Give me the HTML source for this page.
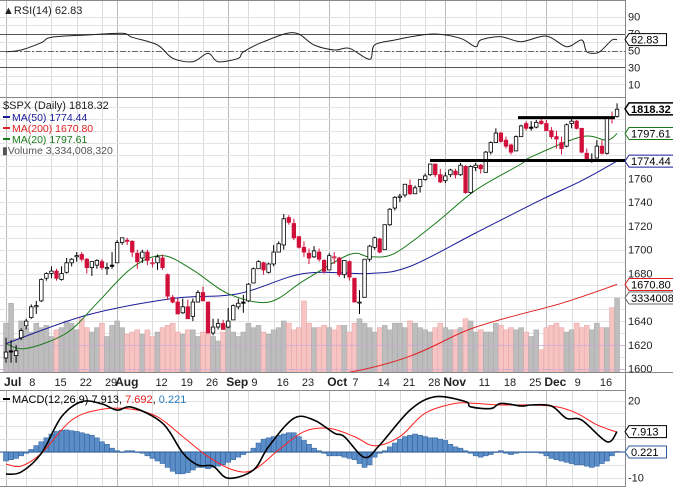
<!DOCTYPE html>
<html><head><meta charset="utf-8"><style>
html,body{margin:0;padding:0;background:#fff;overflow:hidden}
svg{display:block;font-family:"Liberation Sans",sans-serif}
</style></head><body>
<svg id="c" width="673" height="487" viewBox="0 0 673 487" xmlns="http://www.w3.org/2000/svg"></svg>
<script>
const closes=[1614,1614,1615,1632,1640,1652,1653,1675,1680,1682,1676,1680,1689,1692,1695,1692,1685,1690,1691,1685,1685,1686,1706,1710,1707,1698,1690,1698,1691,1689,1694,1685,1661,1656,1646,1652,1642,1656,1664,1657,1630,1635,1638,1633,1640,1653,1655,1655,1671,1684,1690,1683,1688,1698,1705,1726,1723,1710,1702,1698,1693,1699,1692,1682,1695,1694,1679,1691,1677,1656,1656,1692,1703,1710,1698,1721,1734,1744,1745,1755,1747,1752,1759,1762,1772,1763,1757,1762,1767,1763,1771,1748,1770,1771,1768,1782,1790,1798,1791,1787,1782,1795,1804,1802,1802,1807,1806,1800,1795,1793,1785,1805,1808,1802,1782,1775,1776,1787,1781,1811,1810,1818];
const opens=[1609,1615,1611,1626,1636,1643,1652,1657,1676,1680,1682,1675,1681,1689,1694,1696,1692,1685,1687,1690,1684,1687,1689,1706,1708,1707,1697,1693,1698,1689,1689,1693,1679,1660,1656,1647,1652,1644,1656,1664,1656,1630,1635,1638,1635,1641,1652,1656,1657,1672,1684,1689,1681,1688,1698,1704,1727,1722,1711,1702,1697,1694,1698,1691,1683,1694,1693,1679,1690,1676,1656,1660,1692,1702,1709,1700,1721,1735,1744,1746,1754,1747,1753,1759,1763,1772,1763,1758,1763,1766,1763,1770,1748,1769,1771,1765,1782,1790,1798,1792,1788,1783,1795,1806,1803,1803,1808,1806,1800,1795,1790,1787,1806,1808,1802,1781,1776,1777,1787,1781,1811,1812];
const highs=[1626,1624,1620,1634,1642,1654,1657,1676,1681,1686,1684,1686,1693,1693,1698,1698,1693,1690,1692,1692,1689,1698,1708,1710,1710,1708,1700,1700,1700,1693,1696,1696,1680,1662,1659,1659,1658,1659,1666,1669,1656,1642,1642,1641,1651,1654,1659,1662,1672,1685,1691,1690,1689,1704,1707,1730,1729,1726,1711,1707,1701,1703,1701,1692,1697,1698,1694,1691,1691,1676,1666,1692,1704,1711,1710,1721,1735,1745,1747,1755,1759,1754,1759,1764,1772,1772,1768,1765,1768,1768,1773,1771,1771,1773,1772,1783,1791,1802,1799,1795,1789,1796,1805,1808,1808,1809,1810,1809,1803,1800,1795,1806,1811,1809,1802,1785,1781,1792,1792,1812,1816,1823];
const lows=[1605,1605,1605,1624,1633,1642,1646,1656,1674,1676,1674,1674,1680,1686,1690,1690,1680,1678,1684,1683,1679,1684,1689,1704,1704,1694,1684,1689,1687,1685,1683,1683,1658,1655,1646,1646,1642,1640,1656,1657,1630,1628,1633,1633,1634,1641,1650,1647,1656,1672,1684,1679,1680,1686,1698,1700,1721,1708,1701,1694,1688,1693,1690,1680,1683,1688,1677,1676,1674,1656,1646,1660,1690,1700,1697,1700,1720,1733,1740,1744,1746,1747,1748,1758,1762,1761,1756,1756,1761,1760,1762,1747,1747,1766,1764,1765,1780,1790,1790,1785,1780,1783,1795,1800,1800,1802,1805,1800,1793,1785,1780,1786,1802,1801,1781,1774,1773,1777,1780,1780,1806,1811];
const volumes=[2.2,3.1,1.5,2.3,2.0,1.8,2.2,2.0,2.1,1.6,1.9,2.0,2.3,2.2,1.9,2.4,2.0,1.8,2.0,2.2,1.6,2.1,2.3,2.0,1.7,1.8,1.9,1.7,1.9,1.6,1.8,2.0,2.1,2.2,1.8,1.7,1.9,1.9,1.6,1.8,1.7,1.6,1.4,1.8,2.1,1.8,1.6,1.8,2.2,2.0,2.1,1.8,1.7,1.9,2.0,2.3,2.2,1.9,2.0,3.2,2.2,2.0,2.0,2.1,2.0,1.9,2.1,2.1,1.8,2.2,2.4,2.2,2.0,1.8,2.0,2.1,1.9,2.2,2.2,2.0,2.3,2.2,2.0,1.9,1.8,2.0,2.2,2.0,1.9,1.9,2.0,2.4,2.3,1.8,1.9,1.8,1.8,2.2,2.1,1.9,2.0,1.9,2.0,1.8,1.6,1.9,1.0,2.0,2.1,2.2,2.0,1.8,1.9,2.2,2.0,2.1,1.9,2.2,2.0,2.0,2.9,3.33];
const ma50Idx=[0,16,33,46,59,72,80,93,106,114,121];
const ma50Val=[1621,1645,1659,1663,1680,1680,1686,1714,1742,1758,1774.44];
const ma200Idx=[0,68,93,110,121];
const ma200Val=[1560,1597,1635,1655,1670.8];
const ma20Idx=[0,4,12,18,25,31,37,44,52,59,68,72,77,85,93,102,104,114,119,121];
const ma20Val=[1621,1617,1630,1655,1685,1695,1683,1663,1656,1674,1696,1694,1697,1722,1750,1772,1778,1795,1792,1797.61];
const rsiIdx=[0,3,7,9,16,23,25,30,33,37,40,42,46,47,51,57,61,65,68,72,73,77,81,85,90,93,94,98,102,107,111,114,115,117,118,120,121];
const rsiVal=[48.3,50.6,59.2,65.6,68.3,70.3,65.6,56.5,40.8,36.8,46.7,36.8,40.8,48.3,60.4,71.1,56.5,50.6,52.6,39.6,56.5,62.4,67.1,69.5,64.4,54.5,62.4,66.3,60.4,67.1,54.5,62.4,48.3,47.1,50.6,62.4,62.83];
const macdIdx=[0,3,7,11,15,19,22,25,31,35,38,41,44,49,52,57,61,65,67,71,74,80,85,91,92,96,98,102,104,108,111,114,119,121];
const macdVal=[-8.6,-7.8,-0.5,13.7,19.6,18.7,16.3,17.4,11.2,-0.4,-5.1,-5.5,-10.2,-7.0,2.1,13.1,12.4,7.3,6.0,-2.1,2.7,16.3,21.5,19.6,17.6,16.9,18.9,17.9,18.3,17.9,13.1,12.4,4.0,7.913];
const sigIdx=[0,3,7,13,19,25,30,35,40,45,49,54,59,64,69,73,78,83,89,93,98,104,109,113,117,121];
const sigVal=[-4.7,-5.5,-0.5,12.4,16.6,16.6,13.7,6.0,-1.8,-7.0,-7.0,0.8,7.9,9.2,6.0,2.4,6.0,15.1,18.9,18.9,18.3,18.3,17.6,15.1,10.6,7.692];
const hist=[-3.5,-3,-2.5,-1.5,-0.5,1,2.5,4,5.5,7,8,8.5,8.6,8.3,8,7.5,7,6.5,5.5,4,3,1.5,0.5,0,0.5,0.5,0,-0.5,-1.5,-2.5,-3.5,-4.5,-6,-7.5,-8.5,-8.5,-8,-7,-6,-6,-6.5,-6,-5.5,-5,-4,-3,-2,-1,0,1.5,3.5,5,5.5,6,6.5,7,7.5,7.5,6,4.5,3,1.5,0.5,-0.5,-1.5,-1.5,-1.5,-2,-2.5,-3,-4.5,-6,-5,-2,-0.5,0.5,2,3.5,5,6,6.5,7,6.5,6,5.5,5.5,5,4.5,3,2,1.5,0.5,-0.5,-1.5,-2,-1.5,-1,0,0.5,-0.5,-1,-0.5,0,-0.2,0,0,-0.5,-1.5,-2.5,-3,-3.5,-4,-4.5,-5,-5,-5.5,-6,-5.5,-4.5,-3.5,-1.5,0.2];
const priceTicks=[1600,1620,1640,1660,1680,1700,1720,1740,1760];
const rsiTicks=[90,70,50,30,10];
const dateLabels=[["Jul",0,1],["8",4,0],["15",9,0],["22",14,0],["29",19,0],["Aug",22,1],["12",29,0],["19",34,0],["26",39,0],["Sep",44,1],["9",48,0],["16",53,0],["23",58,0],["Oct",64,1],["7",68,0],["14",73,0],["21",78,0],["28",83,0],["Nov",87,1],["11",93,0],["18",98,0],["25",103,0],["Dec",107,1],["9",112,0],["16",117,0]];

const svg=document.getElementById('c');
const NS='http://www.w3.org/2000/svg';
function el(t,a,p){const e=document.createElementNS(NS,t);for(const k in a)e.setAttribute(k,a[k]);(p||svg).appendChild(e);return e;}
const PR=625;
const x=i=>6+5.05*i;
const yP=p=>368.7-(p-1600)*1.19;
const yR=r=>50.5-(r-50)*0.845;
const yM=m=>452-m*2.57;
const yV=v=>372-v/3.334*74;

const g=el('g',{});


dateLabels.forEach(d=>{
  const xx=Math.round(x(d[1]))+0.5;
  [[0,97],[98,372],[390,487]].forEach(r=>el('line',{x1:xx,x2:xx,y1:r[0],y2:r[1],stroke:d[2]?'#b8b8b8':'#dcdcdc','stroke-width':1},g));
});
for(let r=10;r<=90;r+=10){const yy=Math.round(yR(r))+0.5;el('line',{x1:0,x2:PR,y1:yy,y2:yy,stroke:'#e2e2e2'},g);}
for(let p=1600;p<=1820;p+=10){const yy=Math.round(yP(p))+0.5;el('line',{x1:0,x2:PR,y1:yy,y2:yy,stroke:'#e4e4e4'},g);}
[-10,-5,0,5,10,15,20].forEach(m=>{const yy=Math.round(yM(m))+0.5;el('line',{x1:0,x2:PR,y1:yy,y2:yy,stroke:'#e2e2e2'},g);});

closes.forEach((c,i)=>{
  const down=i>0&&c<closes[i-1];
  const r=el('rect',{x:x(i)-2.5,y:yV(volumes[i]),width:5,height:372-yV(volumes[i]),fill:down?'#f7c4c4':'#bdbdbd',stroke:down?'#e8a0a0':'#a8a8a8','stroke-width':0.5});
  
  
});
[1600,1620].forEach(p=>{const yy=Math.round(yP(p))+0.5;el('line',{x1:0,x2:PR,y1:yy,y2:yy,stroke:'#c8a8d8','stroke-opacity':0.7});});

function smoothPath(pts){
  let d='M'+pts[0][0].toFixed(1)+','+pts[0][1].toFixed(1);
  for(let k=0;k<pts.length-1;k++){
    const p0=pts[k-1]||pts[k],p1=pts[k],p2=pts[k+1],p3=pts[k+2]||p2;
    const c1=[p1[0]+(p2[0]-p0[0])/6,p1[1]+(p2[1]-p0[1])/6];
    const c2=[p2[0]-(p3[0]-p1[0])/6,p2[1]-(p3[1]-p1[1])/6];
    d+=`C${c1[0].toFixed(1)},${c1[1].toFixed(1)} ${c2[0].toFixed(1)},${c2[1].toFixed(1)} ${p2[0].toFixed(1)},${p2[1].toFixed(1)}`;
  }
  return d;
}
function line(idx,val,fy,col,w,name,parent){
  const pts=idx.map((d,k)=>[x(d),fy(val[k])]);
  const l=el('path',{d:smoothPath(pts),fill:'none',stroke:col,'stroke-width':w},parent);
  
  
  return l;
}
const cp=el('clipPath',{id:'pc'});el('rect',{x:0,y:98,width:PR,height:274},cp);
const pg=el('g',{'clip-path':'url(#pc)'});
line(ma200Idx,ma200Val,yP,'#e02020',1,'ma200-line',pg);
line(ma50Idx,ma50Val,yP,'#1a1a9a',1,'ma50-line',pg);
line(ma20Idx,ma20Val,yP,'#1a7a1a',1,'ma20-line',pg);

closes.forEach((c,i)=>{
  const o=opens[i],xx=x(i);
  const down=i>0&&c<closes[i-1];
  const filled=c<o;
  const col=down?'#d0103a':'#000';
  const cg=el('g',{});
  
  
  el('line',{x1:xx,x2:xx,y1:yP(highs[i]),y2:yP(lows[i]),stroke:col,'stroke-width':1},cg);
  const t=yP(Math.max(o,c)),b=yP(Math.min(o,c));
  el('rect',{x:xx-1.75,y:t,width:3.5,height:Math.max(1,b-t),fill:filled?col:'#fff',stroke:col,'stroke-width':0.8},cg);
});
[[1811,518,615,'resistance-line'],[1775,430,625,'support-line']].forEach(s=>{
  const l=el('line',{x1:s[1],x2:s[2],y1:yP(s[0]),y2:yP(s[0]),stroke:'#000','stroke-width':3});
  
  
});

[[70,'#555',1,''],[30,'#555',1,''],[50,'#666',1,'6,2,2,2']].forEach(r=>el('line',{x1:0,x2:PR,y1:Math.round(yR(r[0]))+0.5,y2:Math.round(yR(r[0]))+0.5,stroke:r[1],'stroke-dasharray':r[3]}));
line(rsiIdx,rsiVal,yR,'#222',1,'rsi-line');

hist.forEach((h,i)=>{
  const r=el('rect',{x:x(i)-2.5,y:Math.min(yM(0),yM(h)),width:5,height:Math.max(0.5,Math.abs(yM(h)-yM(0))),fill:'#5b8ec8',stroke:'#2d5d99','stroke-width':0.5});
  
  
});
el('line',{x1:0,x2:PR,y1:yM(0),y2:yM(0),stroke:'#2d5d99'});
line(sigIdx,sigVal,yM,'#ff2020',1,'macd-signal-line');
line(macdIdx,macdVal,yM,'#000',1.6,'macd-line');

[[0,0.5,PR,0.5],[0,97.5,PR,97.5],[0,372.5,673,372.5],[0,390.5,PR,390.5],[PR+0.5,0,PR+0.5,487],[0,486.5,PR,486.5]].forEach(b=>el('line',{x1:b[0],y1:b[1],x2:b[2],y2:b[3],stroke:'#888'}));

function txt(s,xx,yy,o,name){const t=el('text',Object.assign({x:xx,y:yy,'font-size':11,fill:'#222'},o||{}));t.textContent=s;return t;}
rsiTicks.forEach(r=>txt(String(r),628,yR(r)+4,{},'rsi-tick-label'));
priceTicks.forEach(p=>txt(String(p),628,yP(p)+4,{},'price-tick-label'));
[20,-10].forEach(m=>txt(String(m),628,yM(m)+4,{},'macd-tick-label'));
dateLabels.forEach(d=>txt(d[0],x(d[1])+(d[2]?-2:3),386,{'font-weight':d[2]?'bold':'normal','font-size':d[2]?12:11},'date-label'));

function tag(s,yy,col,bold,name){
  const gg=el('g',{});
  
  
  const w=s.length*6.3+6;
  el('path',{d:`M${PR},${yy} l4,-6 h${w} v12 h-${w} z`,fill:'#fff',stroke:col,'stroke-width':bold?1.5:1},gg);
  const t=el('text',{x:PR+6,y:yy+4,'font-size':11,fill:'#000','font-weight':bold?'bold':'normal'},gg);t.textContent=s;
}
tag('62.83',yR(62.83),'#000',false,'rsi-value-tag');
tag('1818.32',yP(1818.32),'#000',true,'price-value-tag');
tag('1797.61',yP(1797.61),'#1a7a1a',false,'ma20-value-tag');
tag('1774.44',yP(1774.44),'#1a1a9a',false,'ma50-value-tag');
tag('1670.80',yP(1670.8),'#e02020',false,'ma200-value-tag');
tag('3334008',yV(3.334),'#666',false,'volume-value-tag');
tag('7.913',yM(7.913),'#000',false,'macd-value-tag');
tag('0.221',yM(0),'#2d5d99',false,'histogram-value-tag');

txt('▲RSI(14) 62.83',3,14,{},'rsi-legend');
txt('$SPX (Daily) 1818.32',3,109,{},'price-legend');
const lg=[['MA(50) 1774.44','#1a1a9a',121,'ma50-legend'],['MA(200) 1670.80','#e02020',132,'ma200-legend'],['MA(20) 1797.61','#1a7a1a',143,'ma20-legend']];
lg.forEach(l=>{el('line',{x1:3,x2:10,y1:l[2]-4,y2:l[2]-4,stroke:l[1],'stroke-width':2});txt(l[0],12,l[2],{fill:l[1],'font-size':10.5},l[3]);});
txt('▮Volume 3,334,008,320',2,154,{fill:'#555','font-size':10.5},'volume-legend');
el('line',{x1:3,x2:10,y1:399,y2:399,stroke:'#000','stroke-width':2});
const mt=el('text',{x:12,y:403,'font-size':11,fill:'#000'});


mt.innerHTML='MACD(12,26,9) 7.913, <tspan fill="#e02020">7.692</tspan>, <tspan fill="#2a7fc0">0.221</tspan>';
</script>
</body></html>
